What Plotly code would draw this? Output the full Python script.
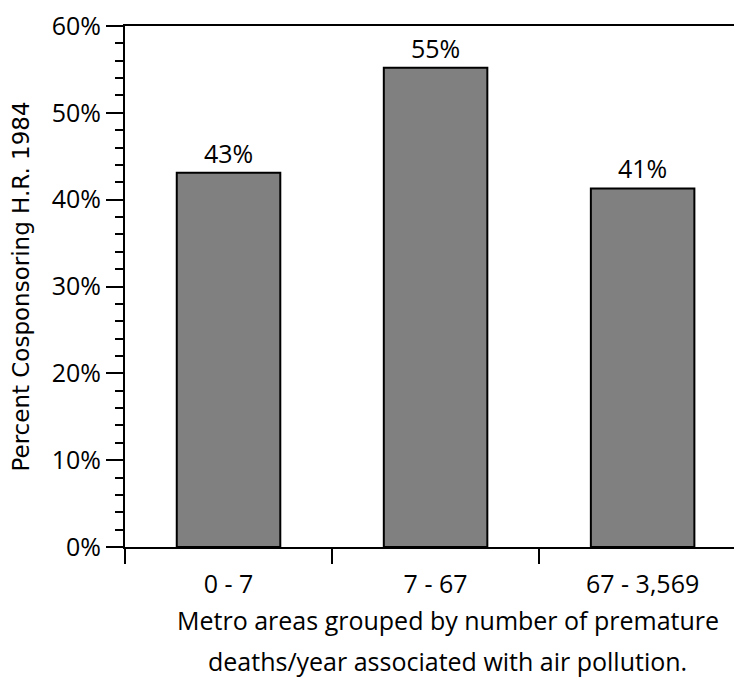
import plotly.graph_objects as go

categories = ["0 - 7", "7 - 67", "67 - 3,569"]
values = [0.431, 0.552, 0.413]
value_labels = ["43%", "55%", "41%"]
y_title = "Percent Cosponsoring H.R. 1984"
x_title_lines = ["Metro areas grouped by number of premature",
                 "deaths/year associated with air pollution."]

FONT = "Open Sans"
FS = 25

fig = go.Figure(go.Bar(
    x=categories, y=values, text=value_labels,
    textposition="outside", cliponaxis=False,
    textfont=dict(family=FONT, size=FS, color="black"),
    marker=dict(color="#808080", line=dict(color="black", width=2)),
))

# page has an 8px body margin, so the figure is offset by 8px
fig.update_layout(
    width=734, height=677,
    margin=dict(l=117, r=0, t=12, b=138),
    plot_bgcolor="white", paper_bgcolor="white",
    bargap=0.5, showlegend=False,
    font=dict(family=FONT, size=FS, color="black"),
)

fig.update_xaxes(
    type="category", range=[-0.5, 2.48],
    showline=True, linecolor="black", linewidth=2, mirror=True,
    ticks="outside", tickson="boundaries", ticklen=15, tickwidth=2, tickcolor="black",
    ticklabelstandoff=14,
    showgrid=False, zeroline=False,
    tickfont=dict(family=FONT, size=FS, color="black"),
)
fig.update_yaxes(
    range=[0, 0.6], tickvals=[0, 0.1, 0.2, 0.3, 0.4, 0.5, 0.6],
    tickformat=".0%", ticklabeloverflow="allow",
    showline=True, linecolor="black", linewidth=2,
    ticks="outside", ticklen=17, tickwidth=2, tickcolor="black",
    minor=dict(dtick=0.02, ticks="outside", ticklen=8, tickwidth=2, tickcolor="black", showgrid=False),
    showgrid=False, zeroline=False,
    tickfont=dict(family=FONT, size=FS, color="black"),
    title=dict(text=y_title, font=dict(family="DejaVu Sans", size=23, color="black"), standoff=16),
)

for line, yc in zip(x_title_lines, [-0.1404, -0.218]):
    fig.add_annotation(
        text=line, xref="paper", yref="paper", x=0.5235, y=yc,
        xanchor="center", yanchor="middle", showarrow=False,
        font=dict(family=FONT, size=FS, color="black"),
    )

fig.write_html("out.html")
